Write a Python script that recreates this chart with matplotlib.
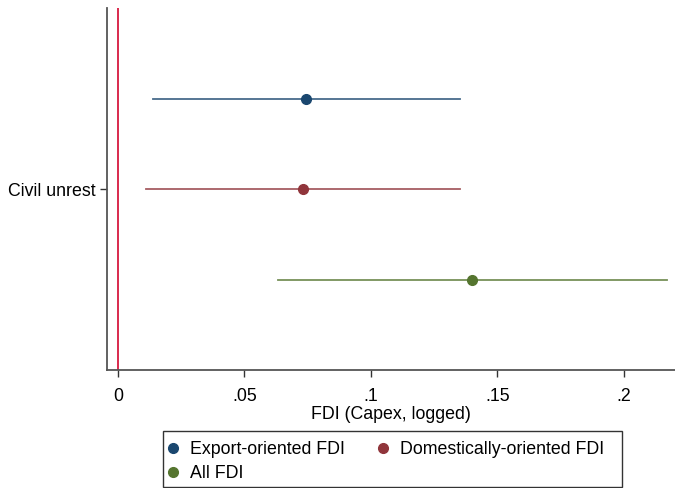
import numpy as np
import matplotlib
matplotlib.use("Agg")
import matplotlib.pyplot as plt
from matplotlib.lines import Line2D
from matplotlib.patches import Rectangle

plt.rcParams['font.family'] = ['Liberation Sans', 'DejaVu Sans']

# coefficient estimates with 95% CIs
models = ['Export-oriented FDI', 'Domestically-oriented FDI', 'All FDI']
coef = [0.0745, 0.0732, 0.140]
ci_lo = [0.0139, 0.0110, 0.0632]
ci_hi = [0.1354, 0.1354, 0.2170]
colors = ['#1a476f', '#90353b', '#55752f']
offsets = [-0.3, 0.0, 0.3]

W, H = 675, 488
fs = 12.8

fig = plt.figure(figsize=(W / 100, H / 100), dpi=100)
ax = fig.add_axes([107 / W, 1 - 370 / H, 568 / W, 362 / H])

ax.axvline(0, color='#d7193f', lw=1.3, zorder=1)

for off, b, lo, hi, c in zip(offsets, coef, ci_lo, ci_hi, colors):
    y = 1 + off
    ax.plot([lo, hi], [y, y], color=c, lw=1.3, alpha=0.8, zorder=2)
    ax.plot(b, y, 'o', color=c, ms=7, zorder=3)

ax.set_xlim(-0.00435, 0.2202)
ax.set_ylim(1.6, 0.4)
ax.set_yticks([1])
ax.set_yticklabels(['Civil unrest'], fontsize=fs)
ax.set_xticks([0, 0.05, 0.1, 0.15, 0.2])
ax.set_xticklabels(['0', '.05', '.1', '.15', '.2'], fontsize=fs)
ax.set_xlabel('FDI (Capex, logged)', fontsize=fs, labelpad=1)

for s in ['top', 'right']:
    ax.spines[s].set_visible(False)
for s in ['left', 'bottom']:
    ax.spines[s].set_color('#555555')
    ax.spines[s].set_linewidth(1.3)
ax.tick_params(axis='both', color='#333333', length=5, width=1)
ax.tick_params(axis='x', pad=8)
ax.tick_params(axis='y', pad=3)

# legend box drawn by hand, nearly touching the bottom edge
fig.patches.append(Rectangle((163 / W, 1 - 487 / H), 459 / W, 56 / H,
                             transform=fig.transFigure, fill=False,
                             edgecolor='#333333', lw=1.0))

handles = [Line2D([], [], marker='o', ls='', color=c, ms=7) for c in colors]
order = [0, 2, 1]
leg = fig.legend([handles[i] for i in order], [models[i] for i in order],
                 ncol=2, loc='upper left', bbox_to_anchor=(166 / W, 1 - 441 / H),
                 fontsize=fs, frameon=False, borderpad=0, borderaxespad=0,
                 handletextpad=0.56, columnspacing=1.75,
                 labelspacing=0.42, handlelength=0.8)

fig.savefig('out.png', dpi=100)
